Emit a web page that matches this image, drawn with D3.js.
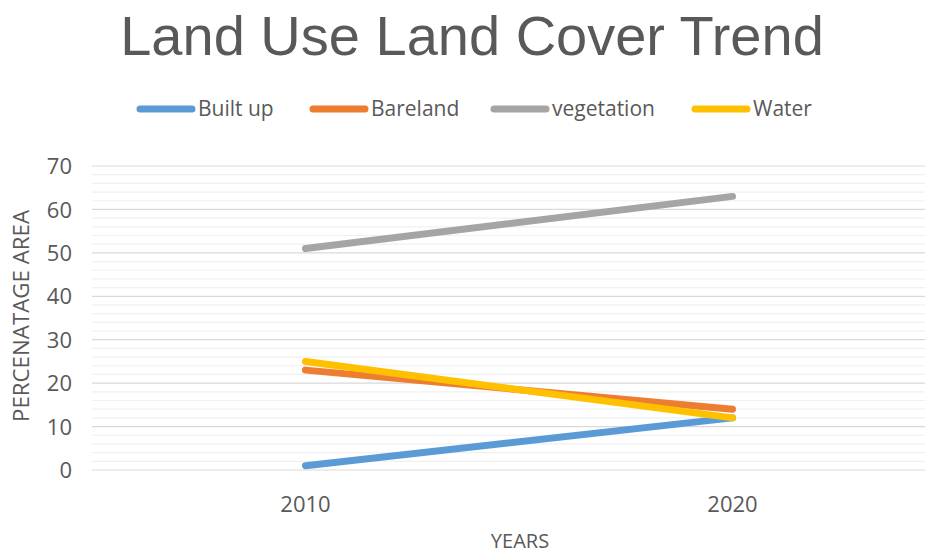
<!DOCTYPE html>
<html><head><meta charset="utf-8">
<script src="https://cdn.jsdelivr.net/npm/d3@7"></script>
<style>
body{margin:0;background:#fff;}
svg{display:block;}
</style></head>
<body><svg id="c" width="925" height="554"></svg>
<script>
const years = ["2010", "2020"];
const seriesNames = ["Built up", "Bareland", "vegetation", "Water"];
const builtUp = [1, 12];
const bareland = [23, 14];
const vegetation = [51, 63];
const water = [25, 12];
const colors = ["#5b9bd5", "#ed7d31", "#a5a5a5", "#ffc000"];
const yTicks = [0, 10, 20, 30, 40, 50, 60, 70];

(function () {
const seriesValues = [builtUp, bareland, vegetation, water];
const svg = d3.select("#c");
const W = 925;
const mLeft = 92, mRight = 946, mTop = 166, mBottom = 470;
const txt = "#595959";
const sans = "'Open Sans', sans-serif";

const x = d3.scaleBand().domain(years).range([mLeft, mRight]).padding(0);
const y = d3.scaleLinear().domain([0, 70]).range([mBottom, mTop]);

// minor gridlines
const minor = d3.range(0, 71, 2).filter(v => v % 10 !== 0);
svg.append("g").selectAll("line").data(minor).join("line")
  .attr("x1", mLeft).attr("x2", W).attr("y1", d => y(d)).attr("y2", d => y(d))
  .attr("stroke", "#f0f0f0").attr("stroke-width", 1.2);
// major gridlines
svg.append("g").selectAll("line").data(yTicks).join("line")
  .attr("x1", mLeft).attr("x2", W).attr("y1", d => y(d)).attr("y2", d => y(d))
  .attr("stroke", "#d9d9d9").attr("stroke-width", 1.2);

// y axis labels
const yAxis = d3.axisLeft(y).tickValues(yTicks).tickSize(0).tickPadding(0);
const ga = svg.append("g").attr("transform", `translate(${mLeft - 20},0)`).call(yAxis);
ga.select(".domain").remove();
ga.selectAll("text").attr("fill", txt).style("font-family", sans).style("font-size", "22px").attr("dy", "0.35em");

// x axis labels
const xAxis = d3.axisBottom(x).tickSize(0).tickPadding(0);
const gx = svg.append("g").attr("transform", `translate(0,${mBottom + 26})`).call(xAxis);
gx.select(".domain").remove();
gx.selectAll("text").attr("fill", txt).style("font-family", sans).style("font-size", "22px").attr("dy", "0.72em");

// series lines
const line = d3.line().x((d, i) => x(years[i]) + x.bandwidth() / 2).y(d => y(d));
seriesValues.forEach((vals, i) => {
  svg.append("path").datum(vals).attr("d", line)
    .attr("fill", "none").attr("stroke", colors[i]).attr("stroke-width", 7)
    .attr("stroke-linecap", "round").attr("stroke-linejoin", "round");
});

// title
svg.append("text").attr("x", 472).attr("y", 55).attr("text-anchor", "middle")
  .attr("fill", txt).style("font-family", "'Liberation Sans', Arial, sans-serif")
  .style("font-size", "56px").text("Land Use Land Cover Trend");

// legend
const legX = [137, 310, 491, 692];
const lg = svg.append("g");
seriesNames.forEach((n, i) => {
  lg.append("line").attr("x1", legX[i] + 3).attr("x2", legX[i] + 55)
    .attr("y1", 109).attr("y2", 109).attr("stroke", colors[i]).attr("stroke-width", 7)
    .attr("stroke-linecap", "round");
  lg.append("text").attr("x", legX[i] + 61).attr("y", 109).attr("dy", "0.35em")
    .attr("fill", txt).style("font-family", sans).style("font-size", "21px").text(n);
});

// axis titles
svg.append("text").attr("transform", "translate(29,316) rotate(-90)")
  .attr("text-anchor", "middle").attr("fill", txt).style("font-family", sans)
  .style("font-size", "21px").attr("textLength", 212).attr("lengthAdjust", "spacingAndGlyphs")
  .text("PERCENATAGE AREA");
svg.append("text").attr("x", 520).attr("y", 548).attr("text-anchor", "middle")
  .attr("fill", txt).style("font-family", sans).style("font-size", "20px").text("YEARS");
})();
</script></body></html>
